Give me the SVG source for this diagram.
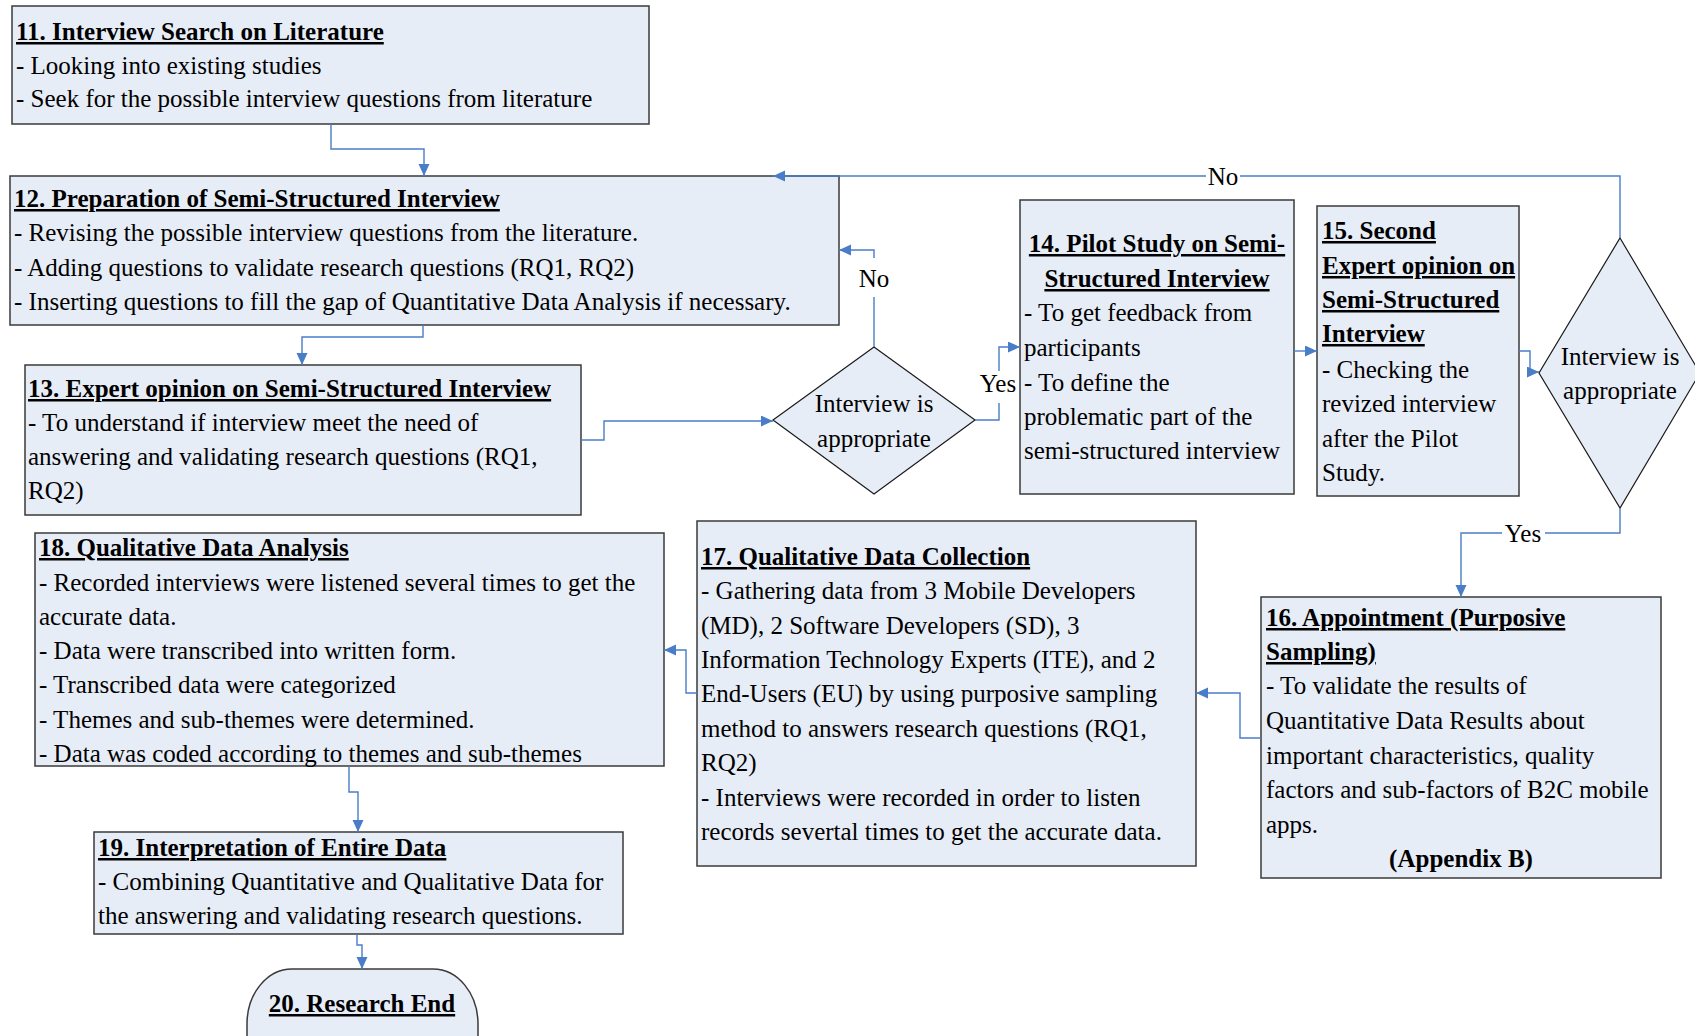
<svg xmlns="http://www.w3.org/2000/svg" width="1695" height="1036" viewBox="0 0 1695 1036">
  <style>
    .box { fill: #E7EDF7; stroke: #3a3a3a; stroke-width: 1.5; }
    .dia { fill: #E7EDF7; stroke: #1a1a1a; stroke-width: 1.2; }
    text { font-family: "Liberation Serif", "Times New Roman", serif; font-size: 25px; fill: #000; }
    .t { font-weight: bold; text-decoration: underline; }
    .b { font-weight: bold; }
    .c { text-anchor: middle; }
    .con { fill: none; stroke: #4A7DC7; stroke-width: 1.4; }
    .arr { marker-end: url(#ah); }
  </style>
  <defs>
    <marker id="ah" markerUnits="userSpaceOnUse" markerWidth="13" markerHeight="12" refX="12" refY="5.5" orient="auto">
      <path d="M0,0 L12,5.5 L0,11 z" fill="#4A7DC7"/>
    </marker>
  </defs>
  <rect width="1695" height="1036" fill="#fff"/>

  <g id="n11">
    <rect class="box" x="12" y="6" width="637" height="118"/>
    <text class="t" x="16" y="40">11. Interview Search on Literature</text>
    <text x="16" y="74">- Looking into existing studies</text>
    <text x="16" y="107">- Seek for the possible interview questions from literature</text>
  </g>

  <g id="n12">
    <rect class="box" x="10" y="176" width="829" height="149"/>
    <text class="t" x="14" y="207">12. Preparation of Semi-Structured Interview</text>
    <text x="14" y="241">- Revising the possible interview questions from the literature.</text>
    <text x="14" y="276">- Adding questions to validate research questions (RQ1, RQ2)</text>
    <text x="14" y="310">- Inserting questions to fill the gap of Quantitative Data Analysis if necessary.</text>
  </g>

  <g id="n13">
    <rect class="box" x="25" y="365" width="556" height="150"/>
    <text class="t" x="28" y="397">13. Expert opinion on Semi-Structured Interview</text>
    <text x="28" y="431">- To understand if interview meet the need of</text>
    <text x="28" y="465">answering and validating research questions (RQ1,</text>
    <text x="28" y="499">RQ2)</text>
  </g>

  <g id="d1">
    <polygon class="dia" points="874,347 975,420 874,494 773,420"/>
    <text class="c" x="874" y="412">Interview is</text>
    <text class="c" x="874" y="447">appropriate</text>
  </g>

  <g id="n14">
    <rect class="box" x="1020" y="200" width="274" height="294"/>
    <text class="t c" x="1157" y="252">14. Pilot Study on Semi-</text>
    <text class="t c" x="1157" y="287">Structured Interview</text>
    <text x="1024" y="321">- To get feedback from</text>
    <text x="1024" y="356">participants</text>
    <text x="1024" y="391">- To define the</text>
    <text x="1024" y="425">problematic part of the</text>
    <text x="1024" y="459">semi-structured interview</text>
  </g>

  <g id="n15">
    <rect class="box" x="1317" y="206" width="202" height="290"/>
    <text class="t" x="1322" y="239">15. Second</text>
    <text class="t" x="1322" y="274">Expert opinion on</text>
    <text class="t" x="1322" y="308">Semi-Structured</text>
    <text class="t" x="1322" y="342">Interview</text>
    <text x="1322" y="378">- Checking the</text>
    <text x="1322" y="412">revized interview</text>
    <text x="1322" y="447">after the Pilot</text>
    <text x="1322" y="481">Study.</text>
  </g>

  <g id="d2">
    <polygon class="dia" points="1620,238 1700,373 1620,508 1539,373"/>
    <text class="c" x="1620" y="365">Interview is</text>
    <text class="c" x="1620" y="399">appropriate</text>
  </g>

  <g id="n16">
    <rect class="box" x="1261" y="597" width="400" height="281"/>
    <text class="t" x="1266" y="626">16. Appointment (Purposive</text>
    <text class="t" x="1266" y="660">Sampling)</text>
    <text x="1266" y="694">- To validate the results of</text>
    <text x="1266" y="729">Quantitative Data Results about</text>
    <text x="1266" y="764">important characteristics, quality</text>
    <text x="1266" y="798">factors and sub-factors of B2C mobile</text>
    <text x="1266" y="833">apps.</text>
    <text class="b c" x="1461" y="867">(Appendix B)</text>
  </g>

  <g id="n17">
    <rect class="box" x="697" y="521" width="499" height="345"/>
    <text class="t" x="701" y="565">17. Qualitative Data Collection</text>
    <text x="701" y="599">- Gathering data from 3 Mobile Developers</text>
    <text x="701" y="634">(MD), 2 Software Developers (SD), 3</text>
    <text x="701" y="668">Information Technology Experts (ITE), and 2</text>
    <text x="701" y="702">End-Users (EU) by using purposive sampling</text>
    <text x="701" y="737">method to answers research questions (RQ1,</text>
    <text x="701" y="771">RQ2)</text>
    <text x="701" y="806">- Interviews were recorded in order to listen</text>
    <text x="701" y="840">records severtal times to get the accurate data.</text>
  </g>

  <g id="n18">
    <rect class="box" x="35" y="533" width="629" height="233"/>
    <text class="t" x="39" y="556">18. Qualitative Data Analysis</text>
    <text x="39" y="591">- Recorded interviews were listened several times to get the</text>
    <text x="39" y="625">accurate data.</text>
    <text x="39" y="659">- Data were transcribed into written form.</text>
    <text x="39" y="693">- Transcribed data were categorized</text>
    <text x="39" y="728">- Themes and sub-themes were determined.</text>
    <text x="39" y="762">- Data was coded according to themes and sub-themes</text>
  </g>

  <g id="n19">
    <rect class="box" x="94" y="832" width="529" height="102"/>
    <text class="t" x="98" y="856">19. Interpretation of Entire Data</text>
    <text x="98" y="890">- Combining Quantitative and Qualitative Data for</text>
    <text x="98" y="924">the answering and validating research questions.</text>
  </g>

  <g id="n20">
    <rect class="box" x="247" y="969" width="231" height="130" rx="45" ry="55"/>
    <text class="t c" x="362" y="1012">20. Research End</text>
  </g>

  <!-- connectors, drawn last so arrowheads sit on top of box edges -->
  <g id="connectors">
    <path class="con arr" d="M331,124 V149 H424 V176"/>
    <path class="con arr" d="M423,325 V337 H302 V365"/>
    <path class="con arr" d="M581,440 H604 V421 H773"/>
    <path class="con" d="M874,347 V297"/>
    <path class="con arr" d="M874,258 V250 H839"/>
    <path class="con" d="M975,420 H999 V403"/>
    <path class="con arr" d="M999,371 V347 H1020"/>
    <path class="con arr" d="M1294,351 H1317"/>
    <path class="con arr" d="M1519,351 H1530 V372 H1539"/>
    <path class="con" d="M1620,238 V176 H1240"/>
    <path class="con arr" d="M1206,176 H773"/>
    <path class="con" d="M1620,508 V533 H1545"/>
    <path class="con arr" d="M1502,533 H1461 V597"/>
    <path class="con arr" d="M1261,738 H1240 V693 H1196"/>
    <path class="con arr" d="M697,693 H686 V650 H664"/>
    <path class="con arr" d="M349,766 V792 H358 V832"/>
    <path class="con arr" d="M357,934 V945 H362 V969"/>
    <text class="c" x="874" y="287">No</text>
    <text class="c" x="998" y="392">Yes</text>
    <text class="c" x="1223" y="185">No</text>
    <text class="c" x="1523" y="542">Yes</text>
  </g>
</svg>
